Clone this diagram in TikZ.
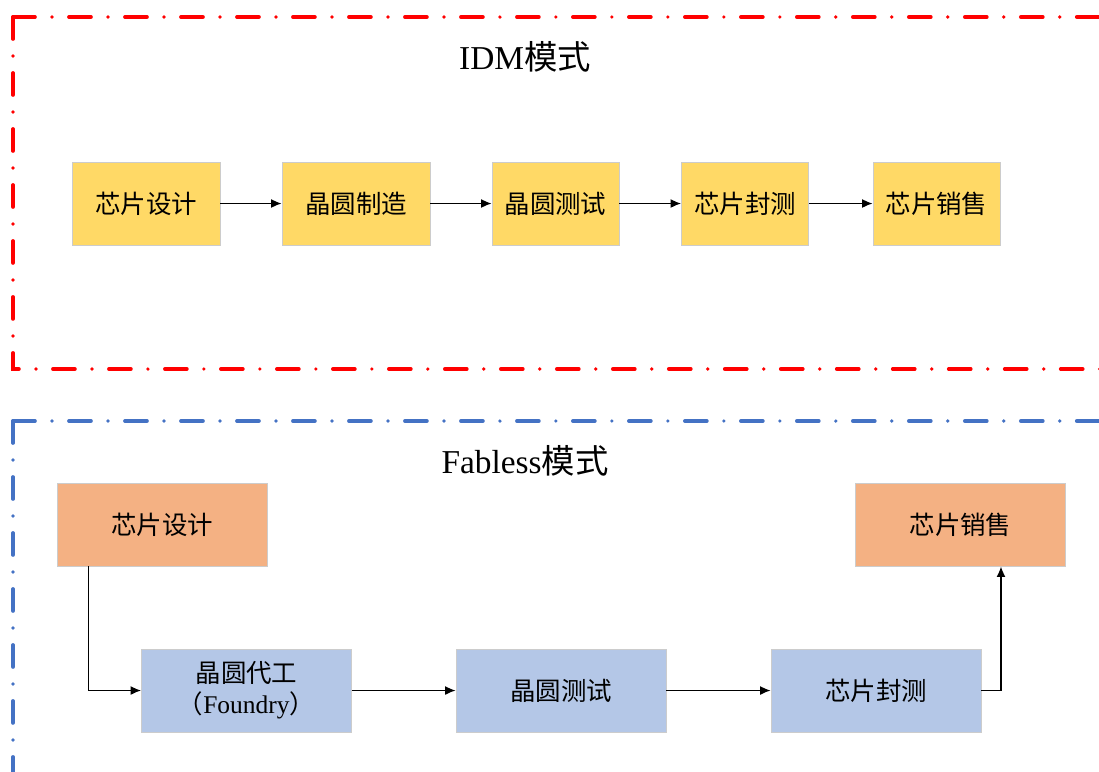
\documentclass[tikz,border=0pt]{standalone}
\usepackage{fontspec}
\setmainfont{Liberation Serif}
\newfontfamily\cjk{Noto Sans CJK SC}
\usepackage{tikz}
\usetikzlibrary{arrows.meta}
\definecolor{idmfill}{HTML}{FFD966}
\definecolor{fabfill}{HTML}{F4B183}
\definecolor{foundfill}{HTML}{B4C7E7}
\definecolor{fabline}{HTML}{4472C4}

\begin{document}
\begin{tikzpicture}[x=0.02cm,y=-0.02cm]
\tikzset{stepbox/.style={draw=black!20,line width=0.5pt,minimum height=1.66cm,inner sep=0pt,align=center,font=\fontsize{14.5pt}{17.6pt}\selectfont\cjk},
idmbox/.style={stepbox,fill=idmfill},
fabbox/.style={stepbox,fill=fabfill,minimum width=4.2cm},
foundbox/.style={stepbox,fill=foundfill,minimum width=4.2cm},
frame/.style={line width=2.1pt,line cap=round,dash pattern=on 0.44cm off 0.34cm on 0cm off 0.34cm},
title/.style={font=\fontsize{19pt}{22pt}\selectfont},
flow/.style={line width=0.8pt,-{Latex[length=0.21cm,width=0.18cm]}}}

\useasboundingbox (0,0) rectangle (1099,771);
\clip (0,0) rectangle (1099,771);

\draw[frame,red] (13,17) -- (1115,17);
\draw[frame,red] (13,17) -- (13,369) -- (1115,369);
\draw[frame,fabline] (13,421) -- (1115,421);
\draw[frame,fabline] (13,421) -- (13,790);

\node[title] (idmtitle) at (525,57) {IDM{\cjk 模式}};
\node[idmbox,minimum width=2.96cm] (idmdesign) at (146,203.5) {芯片设计};
\node[idmbox,minimum width=2.96cm] (idmfab) at (356,203.5) {晶圆制造};
\node[idmbox,minimum width=2.54cm] (idmtest) at (555.5,203.5) {晶圆测试};
\node[idmbox,minimum width=2.54cm] (idmpack) at (745,203.5) {芯片封测};
\node[idmbox,minimum width=2.54cm] (idmsale) at (936.5,203.5) {芯片销售};
\draw[flow] (idmdesign) -- (idmfab);
\draw[flow] (idmfab) -- (idmtest);
\draw[flow] (idmtest) -- (idmpack);
\draw[flow] (idmpack) -- (idmsale);

\node[title] (fabtitle) at (525,461) {Fabless{\cjk 模式}};
\node[fabbox] (design) at (162,524.5) {芯片设计};
\node[fabbox] (sale) at (960.5,524.5) {芯片销售};
\node[foundbox] (foundry) at (246.5,690.5) {晶圆代工\\（{\rmfamily Foundry}）};
\node[foundbox] (test) at (561,690.5) {晶圆测试};
\node[foundbox] (pack) at (876,690.5) {芯片封测};
\draw[flow] ([xshift=0.64cm]design.south west) |- (foundry.west);
\draw[flow] (foundry) -- (test);
\draw[flow] (test) -- (pack);
\draw[flow] (pack.east) -| ([xshift=0.81cm]sale.south);
\end{tikzpicture}
\end{document}
